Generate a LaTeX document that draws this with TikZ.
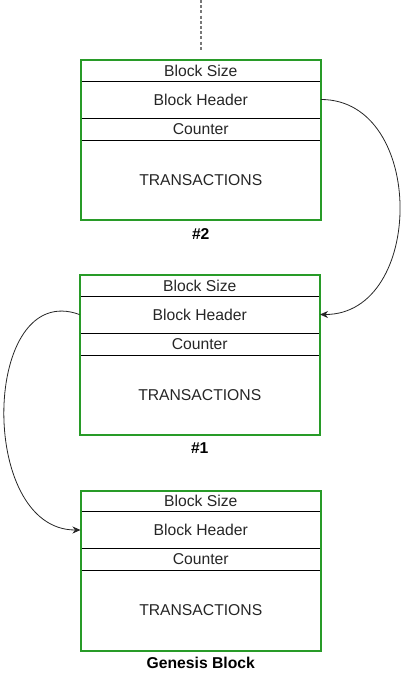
\documentclass[tikz,border=0pt]{standalone}
\usepackage{fontspec}
\setmainfont{Liberation Sans}
\usetikzlibrary{arrows.meta,calc}
\definecolor{blkgreen}{RGB}{40,155,40}
\definecolor{dotgray}{RGB}{120,120,120}
\tikzset{
  cell/.style={rectangle, anchor=north west, minimum width=240.5pt, inner sep=0pt, outer sep=0pt, font=\fontsize{15.7pt}{17pt}\selectfont, text=black!85},
  szcell/.style={cell, minimum height=21pt},
  hdcell/.style={cell, minimum height=37pt},
  ctcell/.style={cell, minimum height=22pt},
  txcell/.style={cell, minimum height=80pt},
  greenbox/.style={draw=blkgreen, line width=2pt},
  divider/.style={draw=black, line width=0.9pt},
  lbl/.style={font=\bfseries\fontsize{15.7pt}{17pt}\selectfont, inner sep=0pt},
  link/.style={draw=black!85, line width=0.8pt, -{Stealth[length=8pt,width=7pt,inset=2.5pt]}},
}
\begin{document}
\begin{tikzpicture}[x=1pt,y=-1pt]
\useasboundingbox (0,0) rectangle (401,673);
% dotted line on top
\coordinate (dtop) at (200.8,0);
\coordinate (dbot) at (200.8,51);
\draw[dotgray, line width=1.4pt, dash pattern=on 3pt off 2.2pt] (dtop) -- (dbot);
% block #2
\node[szcell] (b2s) at (80.5,60) {Block Size};
\node[hdcell] (b2h) at (b2s.south west) {Block Header};
\node[ctcell] (b2c) at (b2h.south west) {Counter};
\node[txcell] (b2t) at (b2c.south west) {TRANSACTIONS};
\draw[divider] (b2s.south west) -- (b2s.south east);
\draw[divider] (b2h.south west) -- (b2h.south east);
\draw[divider] (b2c.south west) -- (b2c.south east);
\draw[greenbox] (b2s.north west) rectangle (b2t.south east);
\node[lbl] (l2) at ($(b2t.south)+(0,14)$) {\#2};
% block #1
\node[szcell] (b1s) at (79.5,275) {Block Size};
\node[hdcell] (b1h) at (b1s.south west) {Block Header};
\node[ctcell] (b1c) at (b1h.south west) {Counter};
\node[txcell] (b1t) at (b1c.south west) {TRANSACTIONS};
\draw[divider] (b1s.south west) -- (b1s.south east);
\draw[divider] (b1h.south west) -- (b1h.south east);
\draw[divider] (b1c.south west) -- (b1c.south east);
\draw[greenbox] (b1s.north west) rectangle (b1t.south east);
\node[lbl] (l1) at ($(b1t.south)+(0,13.5)$) {\#1};
% genesis block
\node[szcell] (b0s) at (80.5,490.5) {Block Size};
\node[hdcell] (b0h) at (b0s.south west) {Block Header};
\node[ctcell] (b0c) at (b0h.south west) {Counter};
\node[txcell] (b0t) at (b0c.south west) {TRANSACTIONS};
\draw[divider] (b0s.south west) -- (b0s.south east);
\draw[divider] (b0h.south west) -- (b0h.south east);
\draw[divider] (b0c.south west) -- (b0c.south east);
\draw[greenbox] (b0s.north west) rectangle (b0t.south east);
\node[lbl] (l0) at ($(b0t.south)+(0,12.5)$) {Genesis Block};
% links
\path[link] (b2h.east) to[out=0,in=0,looseness=1.25] (b1h.east);
\path[link] (b1h.west) to[out=160,in=180,looseness=1.23] (b0h.west);
\end{tikzpicture}
\end{document}
